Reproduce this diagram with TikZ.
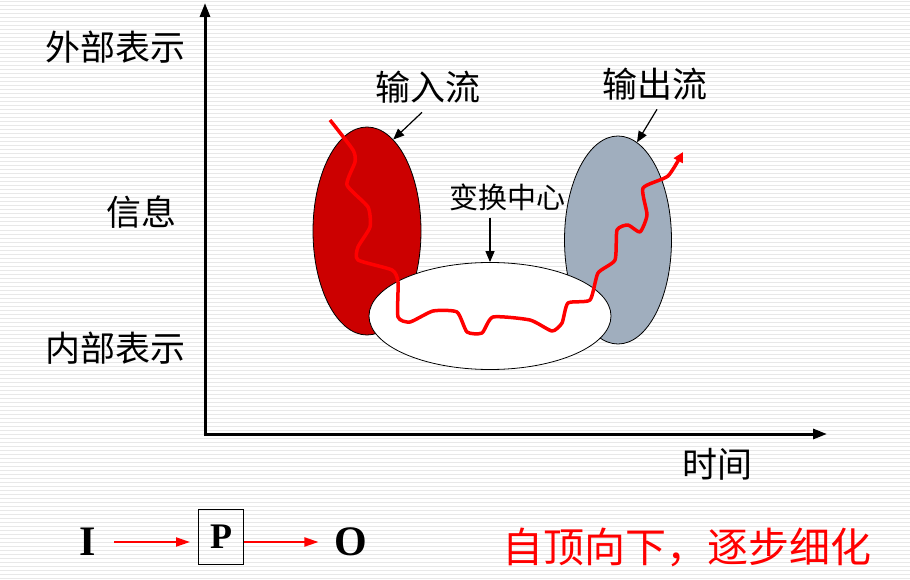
\documentclass[tikz,border=0pt]{standalone}
\usepackage{fontspec}
\setmainfont{Liberation Serif}
\newfontfamily\cjk{Noto Sans CJK SC}
\usetikzlibrary{arrows.meta,shapes.geometric}
\definecolor{inred}{RGB}{204,0,0}
\definecolor{outgray}{RGB}{160,174,190}
\definecolor{stripe}{RGB}{232,232,232}
\definecolor{flowred}{RGB}{255,0,0}
\begin{document}
\begin{tikzpicture}[x=1pt,y=-1pt,
  lbl/.style={font=\cjk\fontsize{35}{38}\selectfont,inner sep=0pt},
  blob/.style={ellipse,draw=black,line width=0.8pt,inner sep=0pt},
  axis/.style={-{Triangle[length=14pt,width=10pt]},line width=3pt},
  ptr/.style={-{Triangle[length=11pt,width=9pt]},line width=1.2pt},
  flow/.style={-{Triangle[length=14pt,width=9pt]},line width=2pt,flowred},
  letter/.style={font=\bfseries\fontsize{42}{44}\selectfont,inner sep=0pt}]
\useasboundingbox (0,0) rectangle (910,580);
% background stripes
\fill[white] (0,0) rectangle (910,580);
\foreach \y in {2,6,...,578} \draw[stripe,line width=1pt] (0,\y) -- (910,\y);
% axes
\coordinate (o) at (205,434);
\coordinate (ox) at (203.5,434);
\coordinate (ytop) at (205,3);
\coordinate (xend) at (827,434);
\draw[axis] (o) -- (ytop);
\draw[axis] (ox) -- (xend);
\node[lbl] (extlbl) at (115,47) {外部表示};
\node[lbl] (infolbl) at (141,212) {信息};
\node[lbl] (intlbl) at (115,348) {内部表示};
\node[lbl] (timelbl) at (717,464) {时间};
% streams and centre
\node[blob,fill=inred,minimum width=108pt,minimum height=208pt] (inblob) at (367,231) {};
\node[blob,fill=outgray,minimum width=107pt,minimum height=208pt] (outblob) at (618,240) {};
\node[blob,fill=white,minimum width=242pt,minimum height=107pt] (core) at (490,316) {};
\node[lbl] (inlbl) at (428,87) {输入流};
\node[lbl] (outlbl) at (655,84) {输出流};
\node[lbl,font=\cjk\fontsize{29}{31}\selectfont] (xform) at (507,197) {变换中心};
\draw[ptr] (inlbl.south) ++(-6,9) -- (inblob.74);
\draw[ptr] (outlbl.south) ++(2,9) -- (outblob.79);
\draw[ptr] (xform.south -| core.north) ++(0,7) -- (core.north);
% data flow
\draw[line width=3.5pt,flowred,line join=round,-{Triangle[length=10pt,width=10pt]}]
  plot[smooth,tension=0.35] coordinates {(330,120) (353,150) (355,162) (347,185) (368,207)
  (370,227) (358,247) (358,260) (392,270) (398,282) (398,317) (410,322) (433,311)
  (457,312) (467,332) (482,333) (493,317) (530,320) (552,331) (562,323) (568,303)
  (590,300) (598,273) (615,260) (617,230) (628,225) (640,232) (647,215) (643,188)
  (668,176) (683,152)};
% I -> P -> O
\node[letter] (inode) at (88,542) {I};
\node[draw,line width=1pt,minimum width=45pt,minimum height=55pt,inner sep=0pt,
  font=\bfseries\fontsize{36}{38}\selectfont] (pbox) at (221,537) {P};
\node[letter] (onode) at (351,542) {O};
\draw[flow,shorten >=8pt] (inode.east) ++(18,0) -- (inode.east -| pbox.west);
\draw[flow,shorten >=16pt] (inode.east -| pbox.east) -- (inode.east -| onode.west);
\node[lbl,font=\cjk\fontsize{41}{44}\selectfont,text=flowred] (motto) at (687,547) {自顶向下，逐步细化};
\end{tikzpicture}
\end{document}
